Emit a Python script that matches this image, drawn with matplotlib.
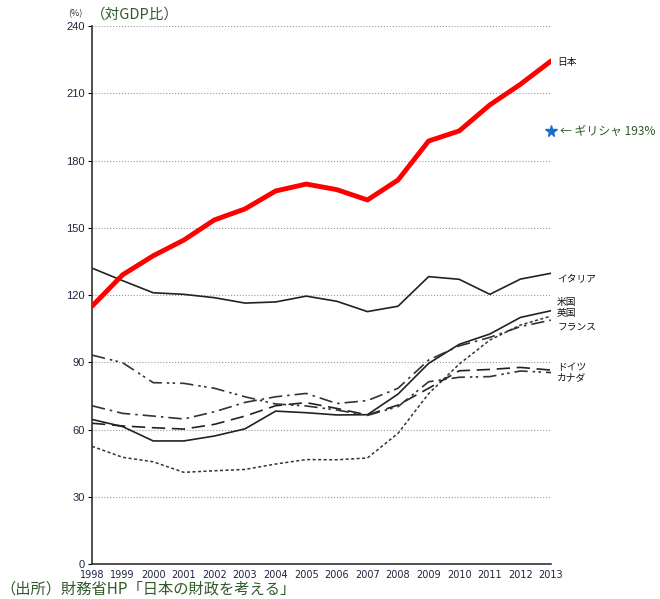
import matplotlib
matplotlib.use("Agg")
import matplotlib.pyplot as plt

years = list(range(1998, 2014))
japan = [115, 129, 137.5, 144.5, 153.5, 158.4, 166.4, 169.5, 167, 162.4, 171.3, 188.7, 193.2, 204.8, 214, 224.4]
italy = [132, 126.4, 121, 120.3, 118.8, 116.4, 116.9, 119.5, 117.2, 112.6, 115, 128.2, 127, 120.3, 127.1, 129.7]
usa = [64.5, 61.3, 54.9, 54.9, 57.1, 60.3, 68.2, 67.5, 66.5, 66.6, 75.8, 89.5, 98, 102.6, 110, 113]
uk = [52.5, 47.6, 45.6, 40.9, 41.6, 42.2, 44.6, 46.6, 46.5, 47.3, 58.3, 76, 89.2, 99.9, 106.6, 110.6]
france = [70.6, 67.2, 66, 64.7, 67.9, 72.1, 74.6, 76.1, 71.6, 72.9, 78.4, 91, 97.3, 101.1, 105.9, 108.8]
germany = [62.8, 61.6, 60.8, 60.2, 62.3, 66, 70.6, 72, 69.4, 66.5, 70.9, 78.4, 86.2, 86.8, 87.7, 86.5]
canada = [93.2, 89.8, 80.9, 80.6, 78.4, 74.6, 71.4, 70.5, 68.7, 66.3, 70.2, 81.3, 83.3, 83.6, 86.1, 85.4]
greece = 193

# label name, y position of the label at the right edge
labels = [("日本", 224), ("イタリア", 127.6), ("米国", 117), ("英国", 112),
          ("フランス", 106), ("ドイツ", 88), ("カナダ", 83)]

jp = ['Noto Sans CJK JP', 'DejaVu Sans']
green = '#2f5a2a'
tickc = '#1f2540'

fig = plt.figure(figsize=(6.6, 5.99), dpi=100)
ax = fig.add_axes([0.1394, 0.0584, 0.6955, 0.8982])

ax.plot(years, italy, color='#222222', lw=1.2)
ax.plot(years, usa, color='#222222', lw=1.2)
ax.plot(years, uk, color='#333333', lw=1.1, linestyle=(0, (2, 1.6)))
ax.plot(years, france, color='#333333', lw=1.2, linestyle=(0, (8, 3, 1.5, 3)))
ax.plot(years, germany, color='#222222', lw=1.2, linestyle=(0, (8, 4)))
ax.plot(years, canada, color='#333333', lw=1.2, linestyle=(0, (8, 3, 1.5, 2, 1.5, 3)))
ax.plot(years, japan, color='#ff0000', lw=3.5, solid_capstyle='round', zorder=5)

ax.plot([years[-1]], [greece], marker='*', color='#1a6fc4', markersize=8.5, clip_on=False, zorder=6)
ax.text(years[-1] + 0.3, greece, "← ギリシャ 193%", family=jp, fontsize=8.6,
        color=green, va='center', ha='left', clip_on=False)

for name, y in labels:
    ax.text(years[-1] + 0.2, y, name, family=jp, fontsize=7, color='#111111',
            va='center', ha='left')

ax.set_xlim(1998, 2013)
ax.set_ylim(0, 240)
ax.set_yticks(range(0, 241, 30))
ax.set_xticks(years)
ax.set_xticklabels([str(y) for y in years], family=['Liberation Sans Narrow', 'DejaVu Sans'],
                   fontsize=7, color=tickc)
ax.set_yticklabels([str(v) for v in range(0, 241, 30)], family=['Liberation Sans', 'DejaVu Sans'],
                   fontsize=8, color=tickc)
ax.tick_params(axis='x', length=0, pad=4)
ax.tick_params(axis='y', length=3, direction='out', width=0.8, pad=2)
ax.grid(axis='y', color='#999999', linestyle=':', lw=0.8)
ax.set_axisbelow(True)

for s in ['top', 'right']:
    ax.spines[s].set_visible(False)
for s in ['left', 'bottom']:
    ax.spines[s].set_color('#333333')
    ax.spines[s].set_linewidth(1.2)

fig.text(0.103, 0.977, "(%)", family=jp, fontsize=6.5, color='#333333', va='center')
fig.text(0.138, 0.975, "（対GDP比）", family=jp, fontsize=10.5, color=green, va='center')
fig.text(0.0, 0.016, "（出所）財務省HP「日本の財政を考える」", family=jp, fontsize=11,
         color=green, va='center')

fig.savefig("out.png", dpi=100)
